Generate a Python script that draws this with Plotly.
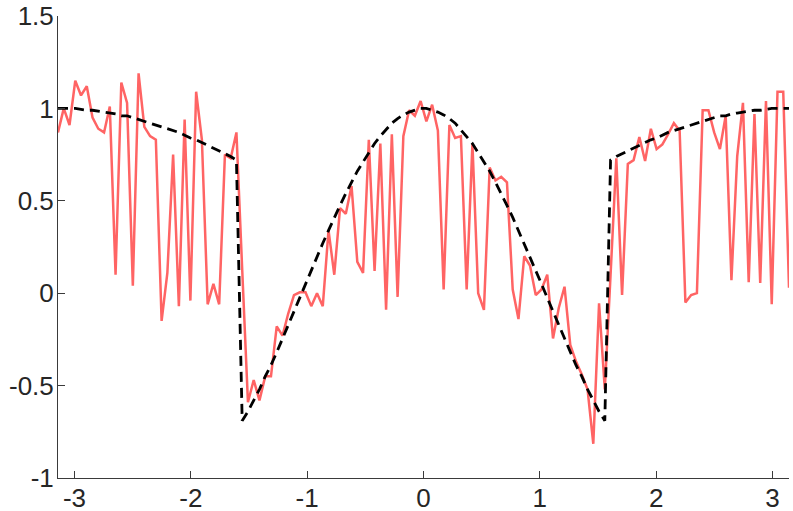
import numpy as np
import plotly.graph_objects as go

# sample positions: 128 evenly spaced samples over [-pi, pi]
n_samples = 128
x = np.linspace(-np.pi, np.pi, n_samples)

noisy = [
    0.87, 1.00, 0.91, 1.15, 1.07, 1.12, 0.95, 0.89, 0.87, 1.01,
    0.10, 1.14, 1.03, 0.04, 1.19, 0.90, 0.85, 0.83, -0.15, 0.11,
    0.75, -0.07, 0.94, -0.04, 1.09, 0.83, -0.06, 0.05, -0.06, 0.75,
    0.73, 0.87, 0.13, -0.59, -0.47, -0.58, -0.45, -0.45, -0.18, -0.23,
    -0.11, -0.01, 0.005, 0.005, -0.07, 0.00, -0.07, 0.34, 0.10, 0.46,
    0.43, 0.58, 0.17, 0.11, 0.83, 0.12, 0.81, -0.09, 0.86, -0.02,
    0.85, 0.99, 0.96, 1.04, 0.93, 1.02, 0.88, 0.02, 0.91, 0.84,
    0.85, 0.02, 0.81, 0.00, -0.09, 0.68, 0.61, 0.63, 0.60, 0.02,
    -0.14, 0.20, 0.15, -0.01, 0.02, 0.10, -0.245, -0.08, 0.035, -0.28,
    -0.37, -0.44, -0.52, -0.815, -0.055, -0.52, 0.10, 0.73, -0.01, 0.70,
    0.72, 0.845, 0.715, 0.89, 0.78, 0.805, 0.86, 0.92, 0.88, -0.05,
    -0.01, 0.00, 0.99, 0.99, 0.87, 0.78, 0.96, 0.07, 0.74, 1.03,
    0.06, 0.97, 0.055, 1.04, -0.06, 1.09, 1.09, 0.03,
]

# clean reference signal (black dashed)
clean_left = [
    1.00, 1.00, 1.00, 1.00, 0.995, 0.99, 0.99, 0.985, 0.98, 0.975,
    0.97, 0.96, 0.96, 0.95, 0.94, 0.93, 0.92, 0.91, 0.90, 0.89,
    0.88, 0.87, 0.855, 0.84, 0.83, 0.815, 0.80, 0.785, 0.77, 0.755,
    0.74, 0.72,
    -0.69, -0.64, -0.58, -0.52, -0.45, -0.39, -0.32, -0.245, -0.17, -0.10,
    -0.025, 0.05, 0.12, 0.20, 0.27, 0.34, 0.41, 0.475, 0.54, 0.60,
    0.66, 0.71, 0.76, 0.81, 0.85, 0.885, 0.92, 0.945, 0.965, 0.98,
    0.99, 1.00,
]
clean = clean_left + clean_left[::-1]

x_tick_vals = [-3, -2, -1, 0, 1, 2, 3]
x_tick_text = ["-3", "-2", "-1", "0", "1", "2", "3"]
y_tick_vals = [-1, -0.5, 0, 0.5, 1, 1.5]
y_tick_text = ["-1", "-0.5", "0", "0.5", "1", "1.5"]

fig = go.Figure()
fig.add_trace(go.Scatter(
    x=x, y=noisy, mode="lines",
    line=dict(color="#FF6464", width=2.5),
    showlegend=False,
))
fig.add_trace(go.Scatter(
    x=x, y=clean, mode="lines",
    line=dict(color="black", width=2.8, dash="10px,6px"),
    showlegend=False,
))

axis_color = "#3a3a3a"
font = dict(family="Liberation Sans, Arial, Helvetica, sans-serif", size=26, color="#262626")

fig.update_layout(
    width=793, height=511,
    margin=dict(l=58, r=4, t=16, b=33, autoexpand=False),
    paper_bgcolor="white", plot_bgcolor="white",
    font=font,
)
fig.update_xaxes(
    range=[-np.pi, np.pi], automargin=False,
    tickvals=x_tick_vals, ticktext=x_tick_text,
    showline=True, linecolor=axis_color, linewidth=1,
    ticks="inside", ticklen=7, tickcolor=axis_color, tickwidth=1,
    showgrid=False, zeroline=False,
    tickfont=font, ticklabelstandoff=-3,
)
fig.update_yaxes(
    range=[-1, 1.5], automargin=False,
    tickvals=y_tick_vals, ticktext=y_tick_text,
    showline=True, linecolor=axis_color, linewidth=1,
    ticks="inside", ticklen=7, tickcolor=axis_color, tickwidth=1,
    showgrid=False, zeroline=False,
    tickfont=font, ticklabelstandoff=-2,
)

fig.write_html(
    "out.html",
    config={"displayModeBar": False},
    post_script="document.body.style.margin='0px';document.body.style.overflow='hidden';",
)
